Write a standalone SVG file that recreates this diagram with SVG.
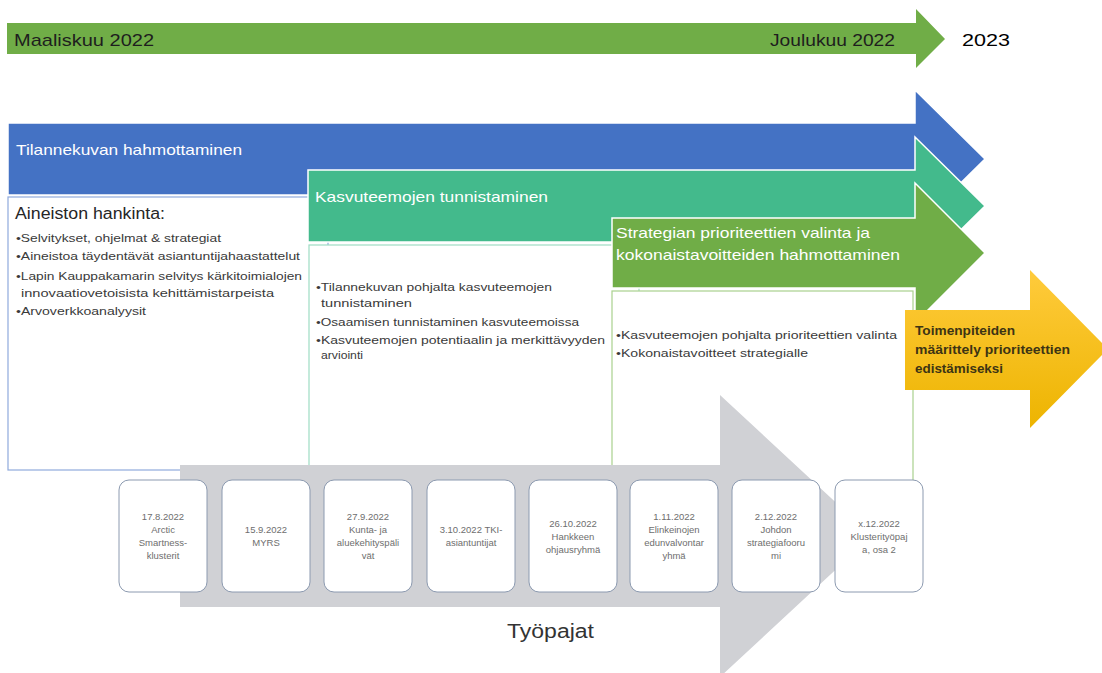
<svg xmlns="http://www.w3.org/2000/svg" width="1102" height="673" viewBox="0 0 1102 673">
<defs>
<linearGradient id="yel" x1="0" y1="0" x2="0" y2="1">
<stop offset="0" stop-color="#FFCB3C"/>
<stop offset="1" stop-color="#EDB400"/>
</linearGradient>
</defs>
<style>
text{font-family:"Liberation Sans",Arial,sans-serif}
.arr{stroke:#ffffff;stroke-width:1.5}
.hd{fill:#ffffff;font-size:15px}
.bl{fill:#3a3a3a;font-size:11px}
.box{fill:#ffffff;stroke-width:1.2}
.ws{fill:#ffffff;stroke:#8C9AB0;stroke-width:1}
.wt{fill:#6e6e6e;font-size:9.5px;text-anchor:middle}
</style>
<rect width="1102" height="673" fill="#ffffff"/>

<g id="timeline">
<polygon points="7,23 916,23 916,9 945,39 916,68 916,54 7,54" fill="#70AD47"/>
<text x="14" y="46" font-size="17" fill="#1e1e1e" textLength="140" lengthAdjust="spacingAndGlyphs">Maaliskuu 2022</text>
<text x="770" y="46" font-size="17" fill="#1e1e1e" textLength="125" lengthAdjust="spacingAndGlyphs">Joulukuu 2022</text>
<text x="962" y="46" font-size="17" fill="#000000" textLength="48" lengthAdjust="spacingAndGlyphs">2023</text>
</g>

<g id="phase1">
<polygon class="arr" points="8,123 915,123 915,90 985,159 915,228 915,195 8,195" fill="#4472C4"/>
<text class="hd" x="16" y="155" textLength="226" lengthAdjust="spacingAndGlyphs">Tilannekuvan hahmottaminen</text>
</g>

<g id="box1">
<rect class="box" x="8" y="197" width="320" height="273" stroke="#8FAADC"/>
<text x="15" y="219" font-size="16" fill="#262626" textLength="150" lengthAdjust="spacingAndGlyphs">Aineiston hankinta:</text>
<text class="bl" x="16" y="242" textLength="205" lengthAdjust="spacingAndGlyphs">•Selvitykset, ohjelmat &amp; strategiat</text>
<text class="bl" x="16" y="260" textLength="284" lengthAdjust="spacingAndGlyphs">•Aineistoa täydentävät asiantuntijahaastattelut</text>
<text class="bl" x="16" y="280" textLength="286" lengthAdjust="spacingAndGlyphs">•Lapin Kauppakamarin selvitys kärkitoimialojen</text>
<text class="bl" x="21" y="297" textLength="253" lengthAdjust="spacingAndGlyphs">innovaatiovetoisista kehittämistarpeista</text>
<text class="bl" x="16" y="315" textLength="130" lengthAdjust="spacingAndGlyphs">•Arvoverkkoanalyysit</text>
</g>

<g id="phase2">
<polygon class="arr" points="308,170 915,170 915,137 985,206 915,275 915,242 308,242" fill="#43BA8C"/>
<text class="hd" x="315" y="202" textLength="233" lengthAdjust="spacingAndGlyphs">Kasvuteemojen tunnistaminen</text>
</g>

<g id="box2">
<rect class="box" x="309" y="245" width="330" height="260" stroke="#9EDCC4"/>
<text class="bl" x="316" y="291" textLength="236" lengthAdjust="spacingAndGlyphs">•Tilannekuvan pohjalta kasvuteemojen</text>
<text class="bl" x="321" y="307" textLength="91" lengthAdjust="spacingAndGlyphs">tunnistaminen</text>
<text class="bl" x="316" y="326" textLength="263" lengthAdjust="spacingAndGlyphs">•Osaamisen tunnistaminen kasvuteemoissa</text>
<text class="bl" x="316" y="344" textLength="289" lengthAdjust="spacingAndGlyphs">•Kasvuteemojen potentiaalin ja merkittävyyden</text>
<text class="bl" x="321" y="359" textLength="42" lengthAdjust="spacingAndGlyphs">arviointi</text>
</g>

<g id="phase3">
<polygon class="arr" points="612,218 915,218 915,183 985,253 915,323 915,288 612,288" fill="#70AD47"/>
<text class="hd" x="616" y="238" textLength="254" lengthAdjust="spacingAndGlyphs">Strategian prioriteettien valinta ja</text>
<text class="hd" x="616" y="260" textLength="284" lengthAdjust="spacingAndGlyphs">kokonaistavoitteiden hahmottaminen</text>
</g>

<g id="box3">
<rect class="box" x="612" y="291" width="301" height="269" stroke="#A9D18E"/>
<text class="bl" x="616" y="339" textLength="281" lengthAdjust="spacingAndGlyphs">•Kasvuteemojen pohjalta prioriteettien valinta</text>
<text class="bl" x="616" y="357" textLength="192" lengthAdjust="spacingAndGlyphs">•Kokonaistavoitteet strategialle</text>
</g>

<g id="phase4">
<polygon points="905,310 1030,310 1030,270 1108,349 1030,428 1030,390 905,390" fill="url(#yel)"/>
<text x="915" y="335" font-size="13" font-weight="bold" fill="#3d3414" textLength="100" lengthAdjust="spacingAndGlyphs">Toimenpiteiden</text>
<text x="915" y="354" font-size="13" font-weight="bold" fill="#3d3414" textLength="155" lengthAdjust="spacingAndGlyphs">määrittely prioriteettien</text>
<text x="915" y="373" font-size="13" font-weight="bold" fill="#3d3414" textLength="88" lengthAdjust="spacingAndGlyphs">edistämiseksi</text>
</g>

<g id="workshops">
<polygon points="180,465 720,465 720,395 872,536 720,677 720,607 180,607" fill="#D0D1D5"/>
<text x="507" y="638" font-size="20" fill="#333333" textLength="87" lengthAdjust="spacingAndGlyphs">Työpajat</text>
</g>

<g id="ws1">
<rect class="ws" x="119" y="480" width="88" height="112" rx="10"/>
<text class="wt" x="163" y="520">17.8.2022</text>
<text class="wt" x="163" y="533">Arctic</text>
<text class="wt" x="163" y="546">Smartness-</text>
<text class="wt" x="163" y="559">klusterit</text>
</g>
<g id="ws2">
<rect class="ws" x="222" y="480" width="88" height="112" rx="10"/>
<text class="wt" x="266" y="533">15.9.2022</text>
<text class="wt" x="266" y="546">MYRS</text>
</g>
<g id="ws3">
<rect class="ws" x="324" y="480" width="88" height="112" rx="10"/>
<text class="wt" x="368" y="520">27.9.2022</text>
<text class="wt" x="368" y="533">Kunta- ja</text>
<text class="wt" x="368" y="546">aluekehityspäli</text>
<text class="wt" x="368" y="559">vät</text>
</g>
<g id="ws4">
<rect class="ws" x="427" y="480" width="88" height="112" rx="10"/>
<text class="wt" x="471" y="533">3.10.2022 TKI-</text>
<text class="wt" x="471" y="546">asiantuntijat</text>
</g>
<g id="ws5">
<rect class="ws" x="529" y="480" width="88" height="112" rx="10"/>
<text class="wt" x="573" y="527">26.10.2022</text>
<text class="wt" x="573" y="540">Hankkeen</text>
<text class="wt" x="573" y="553">ohjausryhmä</text>
</g>
<g id="ws6">
<rect class="ws" x="630" y="480" width="88" height="112" rx="10"/>
<text class="wt" x="674" y="520">1.11.2022</text>
<text class="wt" x="674" y="533">Elinkeinojen</text>
<text class="wt" x="674" y="546">edunvalvontar</text>
<text class="wt" x="674" y="559">yhmä</text>
</g>
<g id="ws7">
<rect class="ws" x="732" y="480" width="88" height="112" rx="10"/>
<text class="wt" x="776" y="520">2.12.2022</text>
<text class="wt" x="776" y="533">Johdon</text>
<text class="wt" x="776" y="546">strategiafooru</text>
<text class="wt" x="776" y="559">mi</text>
</g>
<g id="ws8">
<rect class="ws" x="835" y="480" width="88" height="112" rx="10"/>
<text class="wt" x="879" y="527">x.12.2022</text>
<text class="wt" x="879" y="540">Klusterityöpaj</text>
<text class="wt" x="879" y="553">a, osa 2</text>
</g>

<g id="connectors"/>
</svg>
